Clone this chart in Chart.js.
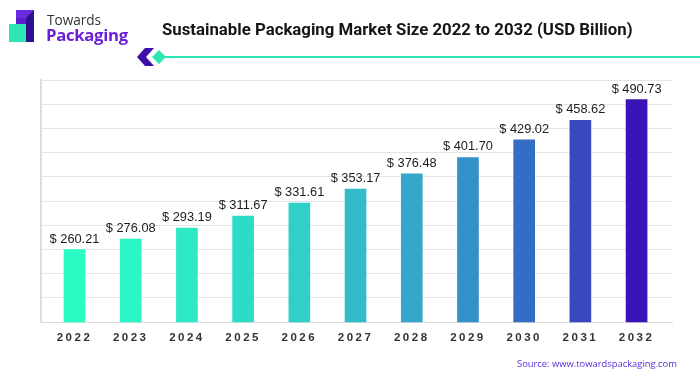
<!DOCTYPE html>
<html>
<head>
<meta charset="utf-8">
<script src="https://cdn.jsdelivr.net/npm/chart.js@4"></script>
<style>
  html, body { margin: 0; padding: 0; background: #fff; }
  #wrap { position: relative; width: 700px; height: 375px; overflow: hidden; }
  #chart-box { position: absolute; left: 0; top: 0; width: 700px; height: 375px; }
  #logo { position: absolute; left: 8px; top: 8px; }
  #brand1 { position: absolute; left: 47px; top: 10px; font: 400 13.6px "Open Sans", sans-serif; color: #333; }
  #brand2 { position: absolute; left: 46px; top: 23px; font: 700 16.7px "Open Sans", sans-serif; color: #6a1fd6; letter-spacing: -0.3px; }
  #title { position: absolute; left: 162px; top: 19px; font: 700 16.8px Roboto, sans-serif; color: #151515; white-space: nowrap; }
  #rule { position: absolute; left: 160px; top: 56px; width: 540px; height: 2px; background: #2ee6b4; }
  #marker { position: absolute; left: 136px; top: 48px; }
  #source { position: absolute; left: 517px; top: 357px; font: 400 9.4px "Open Sans", sans-serif; color: #5a2bd8; white-space: nowrap; }
</style>
</head>
<body>
<div id="wrap">
  <div id="chart-box"><canvas id="market-chart"></canvas></div>
  <svg id="logo" width="32" height="36" viewBox="0 0 32 36">
    <polygon points="8,2 26,2 26,26 8,26" fill="#5b1fd0"/>
    <polygon points="18,2 26,2 26,34 18,34" fill="#2e0f8f"/>
    <polygon points="8,2 18,2 26,2 18,10 8,10" fill="#6a2be0"/>
    <rect x="1" y="16" width="17" height="18" fill="#2ee6b4"/>
  </svg>
  <div id="brand1">Towards</div>
  <div id="brand2">Packaging</div>
  <div id="title">Sustainable Packaging Market Size 2022 to 2032 (USD Billion)</div>
  <div id="rule"></div>
  <svg id="marker" width="30" height="20" viewBox="0 0 30 20">
    <polygon points="9,0 18,0 10,9 18,18 9,18 1,9" fill="#3d0fa8"/>
    <polygon points="23,2 30,9 23,16 16,9" fill="#2ee6b4"/>
  </svg>
  <div id="source">Source: www.towardspackaging.com</div>
</div>
<script>
const years = ["2022", "2023", "2024", "2025", "2026", "2027", "2028", "2029", "2030", "2031", "2032"];
const marketSize = [260.21, 276.08, 293.19, 311.67, 331.61, 353.17, 376.48, 401.70, 429.02, 458.62, 490.73];
const barColors = ["#2bfcc6", "#2cf5c6", "#2de9c6", "#2ddcc8", "#30d0c8", "#32bcc9", "#33a6c9", "#3390c8", "#346dc4", "#3a48c0", "#3b14b8"];

const valueLabels = {
  id: "valueLabels",
  beforeDraw(chart) {
    chart.ctx.letterSpacing = "2.5px";
  },
  beforeDatasetsDraw(chart) {
    chart.ctx.letterSpacing = "0px";
  },
  afterDatasetsDraw(chart) {
    const c = chart.ctx;
    const meta = chart.getDatasetMeta(0);
    c.save();
    c.font = "12.8px 'Liberation Sans', Arial, sans-serif";
    c.fillStyle = "#1c1c1c";
    c.textAlign = "center";
    c.textBaseline = "alphabetic";
    meta.data.forEach((bar, i) => {
      c.fillText("$ " + marketSize[i].toFixed(2), bar.x, bar.y - 7);
    });
    c.restore();
  }
};

new Chart(document.getElementById("market-chart"), {
  type: "bar",
  data: {
    datasets: [{
      data: marketSize.map((v, i) => ({ x: i, y: v })),
      backgroundColor: barColors,
      barThickness: 21,
      borderWidth: 0
    }]
  },
  options: {
    responsive: true,
    maintainAspectRatio: false,
    animation: false,
    layout: { padding: { left: 41, right: 28, top: 80, bottom: 21 } },
    plugins: { legend: { display: false }, tooltip: { enabled: false } },
    scales: {
      x: {
        type: "linear",
        offset: false,
        min: -0.596,
        max: 10.63,
        grid: { display: false, drawTicks: false },
        border: { color: "#dcdcdc", width: 1 },
        afterBuildTicks: (axis) => {
          axis.ticks = years.map((_, i) => ({ value: i }));
        },
        ticks: {
          autoSkip: false,
          maxRotation: 0,
          padding: 9,
          color: "#333",
          font: { family: "'Liberation Sans', Arial, sans-serif", size: 11.5, weight: "bold" },
          callback: (v) => years[Math.round(v)] || ""
        }
      },
      y: {
        min: 148.5,
        max: 520.8,
        grid: { color: "#e4e4e4", lineWidth: 1, drawTicks: false },
        border: { color: "#dcdcdc", width: 2 },
        ticks: { display: false, count: 11 }
      }
    }
  },
  plugins: [valueLabels]
});
</script>
</body>
</html>
